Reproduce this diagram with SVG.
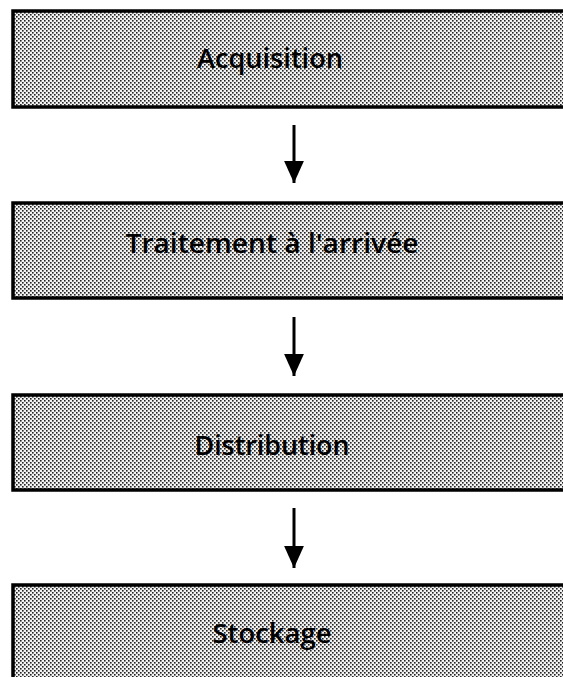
<svg xmlns="http://www.w3.org/2000/svg" width="563" height="677" viewBox="0 0 563 677">
<defs>
<pattern id="dots" width="4" height="4" patternUnits="userSpaceOnUse">
<rect width="4" height="4" fill="#f2f2f2"/>
<rect x="0" y="0" width="1.6" height="1.6" fill="#222"/>
<rect x="2" y="2" width="1.6" height="1.6" fill="#222"/>
</pattern>
<marker id="ah" markerUnits="userSpaceOnUse" markerWidth="22" markerHeight="20" refX="20" refY="9" orient="auto" viewBox="0 0 20 18">
<path d="M0,0 L20,9 L0,18 Z" fill="#000"/>
</marker>
<style>
.box{fill:url(#dots);stroke:#000;stroke-width:3.5}
.lbl{font-family:"Open Sans","Liberation Sans",sans-serif;font-weight:600;font-size:27px;fill:#000;text-anchor:middle}
.conn{stroke:#000;stroke-width:3;fill:none}
</style>
</defs>
<g id="connectors">
<line class="conn" x1="294" y1="125" x2="294" y2="183" marker-end="url(#ah)"/>
<line class="conn" x1="294" y1="317" x2="294" y2="376" marker-end="url(#ah)"/>
<line class="conn" x1="294" y1="508" x2="294" y2="568" marker-end="url(#ah)"/>
</g>
<g id="acquisition">
<rect class="box" x="13" y="11" width="560" height="96"/>
<text class="lbl" x="270" y="68" textLength="146" lengthAdjust="spacingAndGlyphs">Acquisition</text>
</g>
<g id="traitement">
<rect class="box" x="13" y="203" width="560" height="95"/>
<text class="lbl" x="272" y="253" textLength="293" lengthAdjust="spacingAndGlyphs">Traitement à l'arrivée</text>
</g>
<g id="distribution">
<rect class="box" x="13" y="395" width="560" height="95"/>
<text class="lbl" x="272" y="455" textLength="155" lengthAdjust="spacingAndGlyphs">Distribution</text>
</g>
<g id="stockage">
<rect class="box" x="13" y="585" width="560" height="100"/>
<text class="lbl" x="272" y="643" textLength="119" lengthAdjust="spacingAndGlyphs">Stockage</text>
</g>
</svg>
